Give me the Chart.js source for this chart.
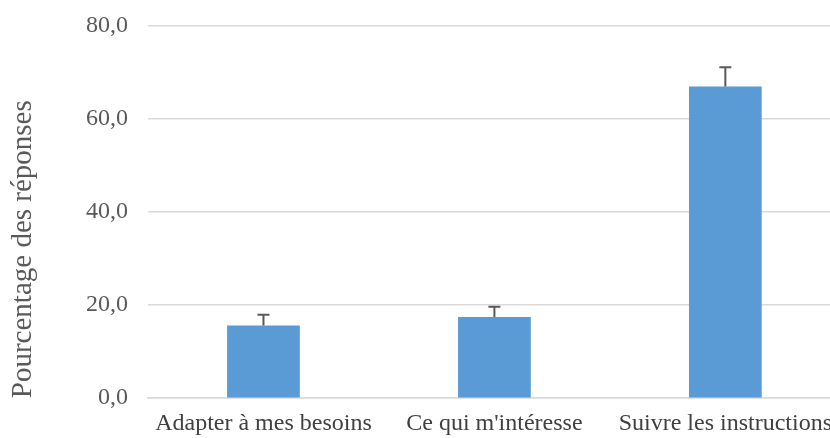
<!DOCTYPE html>
<html>
<head>
<meta charset="utf-8">
<script src="https://cdn.jsdelivr.net/npm/chart.js@4/dist/chart.umd.min.js"></script>
<style>
  html, body { margin: 0; padding: 0; background: #fff; overflow: hidden; }
  /* plot runs slightly past the edges like the original */
  #wrap { width: 843px; height: 458px; margin-top: -9px; }
</style>
</head>
<body>
<div id="wrap"><canvas id="chart"></canvas></div>
<script>
// Chart data
const categories = ['Adapter à mes besoins', "Ce qui m'intéresse", 'Suivre les instructions'];
const percentages = [15.6, 17.4, 66.9];
const errors = [2.3, 2.2, 4.1];
const yTicks = [0, 20, 40, 60, 80];

// Draw one-sided error bars (upward) with a cap
const errorBarPlugin = {
    id: 'errorBars',
    afterDatasetsDraw(chart) {
        const ctx = chart.ctx;
        const yScale = chart.scales.y;
        const meta = chart.getDatasetMeta(0);
        ctx.save();
        ctx.strokeStyle = '#595959';
        ctx.lineWidth = 2;
        meta.data.forEach((bar, i) => {
            const x = bar.x;
            const yTop = yScale.getPixelForValue(percentages[i] + errors[i]);
            const yBase = yScale.getPixelForValue(percentages[i]);
            ctx.beginPath();
            ctx.moveTo(x, yBase);
            ctx.lineTo(x, yTop);
            ctx.moveTo(x - 6, yTop);
            ctx.lineTo(x + 6, yTop);
            ctx.stroke();
        });
        ctx.restore();
    }
};

const ctx = document.getElementById('chart').getContext('2d');
new Chart(ctx, {
    type: 'bar',
    data: {
        labels: categories,
        datasets: [{
            data: percentages,
            backgroundColor: '#5B9BD5',
            categoryPercentage: 1,
            barPercentage: 0.315
        }]
    },
    options: {
        responsive: true,
        maintainAspectRatio: false,
        animation: false,
        layout: { padding: { top: 1, right: 0, bottom: 0, left: 0 } },
        plugins: {
            legend: { display: false },
            tooltip: { enabled: false }
        },
        scales: {
            x: {
                grid: { display: false, drawTicks: false },
                border: { color: '#d9d9d9', width: 1.5 },
                ticks: {
                    color: '#404040',
                    font: { family: 'Liberation Serif', size: 24 },
                    padding: 11,
                    maxRotation: 0,
                    autoSkip: false
                }
            },
            y: {
                min: 0,
                max: 80,
                afterBuildTicks(scale) {
                    scale.ticks = yTicks.map(v => ({ value: v }));
                },
                afterFit(scale) { scale.width = 148; },
                grid: { color: '#d9d9d9', lineWidth: 1.5, drawTicks: false },
                border: { display: false },
                ticks: {
                    color: '#595959',
                    font: { family: 'Liberation Serif', size: 24 },
                    padding: 20,
                    callback: v => v.toFixed(1).replace('.', ',')
                },
                title: {
                    display: true,
                    text: 'Pourcentage des réponses',
                    align: 'start',
                    color: '#595959',
                    font: { family: 'Liberation Serif', size: 29 },
                    padding: { top: 6, bottom: 0 }
                }
            }
        }
    },
    plugins: [errorBarPlugin]
});
</script>
</body>
</html>
